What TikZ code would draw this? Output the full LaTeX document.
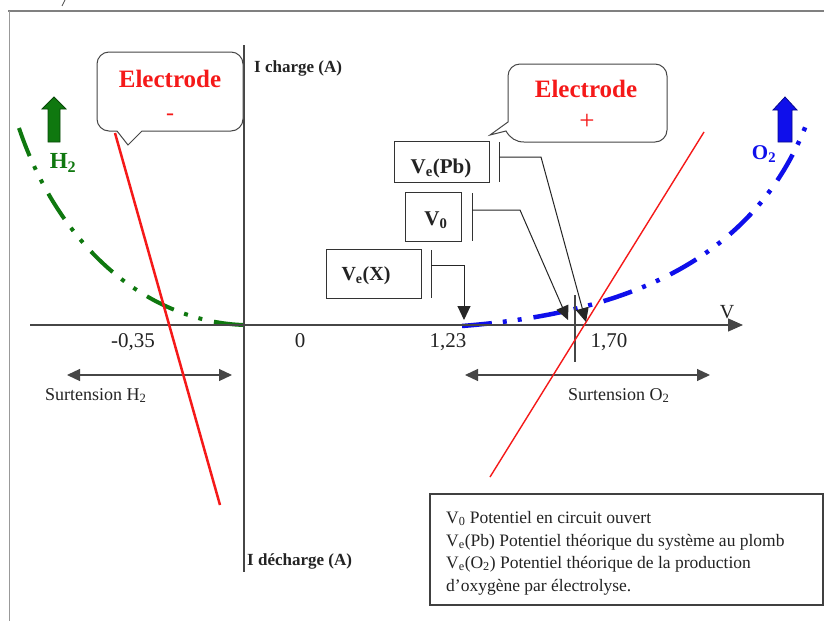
\documentclass[tikz,border=0pt]{standalone}
\usepackage{fontspec}
\setmainfont{Liberation Serif}
\usetikzlibrary{arrows.meta,calc}
\definecolor{myred}{RGB}{245,25,25}
\definecolor{mygreen}{RGB}{15,120,15}
\definecolor{myblue}{RGB}{15,15,235}
\definecolor{axisgray}{RGB}{70,70,70}
\definecolor{txtgray}{RGB}{35,35,35}
\newcommand\myfs[1]{\fontsize{#1}{#1}\selectfont}
\begin{document}
\begin{tikzpicture}[x=1pt,y=-1pt,
  axisline/.style={draw=axisgray, line width=1.3pt},
  conn/.style={draw=black!85, line width=1pt, -{Triangle[length=14pt,width=13pt]}},
  dblarrow/.style={draw=axisgray, line width=1.2pt, {Triangle[length=13pt,width=12pt]}-{Triangle[length=13pt,width=12pt]}},
  lbox/.style={draw=black!80, line width=1pt, inner sep=0pt},
  bracket/.style={draw=black!80, line width=1pt},
  callout/.style={draw=axisgray, line width=1pt, fill=white},
  dashdotdot/.style={line width=4pt, dash pattern=on 30pt off 11pt on 4pt off 11pt on 4pt off 12pt},
  txt/.style={inner sep=0pt, text=txtgray},
]
\useasboundingbox (0,0) rectangle (824,621);
\fill[white] (0,0) rectangle (824,621);

% frame
\draw[gray, line width=2.5pt] (8,11) -- (824,11);
\draw[gray!80, line width=1pt] (9,11) -- (9,621);
\draw[black!70, line width=0.8pt] (65,0) -- (62,6);

% curves
\draw[dashdotdot, mygreen] (19,128) .. controls (60,250) and (150,322) .. (244,325);
\draw[dashdotdot, myblue, line width=4.5pt] (462,326) .. controls (600,315) and (750,275) .. (808,120);

% axes
\coordinate (hstart) at (30,325);
\coordinate (hend) at (743,325);
\coordinate (vtop) at (244,45);
\coordinate (vbot) at (244,572);
\draw[axisline, -{Triangle[length=15pt,width=13pt]}] (hstart) -- (hend);
\draw[axisline] (vtop) -- (vbot);
\coordinate (mtop) at (575,295);
\coordinate (mbot) at (575,362);
\draw[axisline, line width=1.2pt] (mtop) -- (mbot);

% surtension arrows
\coordinate (h2l) at (67,375);
\coordinate (h2r) at (232,375);
\coordinate (o2l) at (465,375);
\coordinate (o2r) at (710,375);
\draw[dblarrow] (h2l) -- (h2r);
\draw[dblarrow] (o2l) -- (o2r);

% callouts
\draw[callout] (142,131) -- (231,131) .. controls (237.6,131) and (243,125.6) .. (243,119)
  -- (243,64) .. controls (243,57.4) and (237.6,52) .. (231,52)
  -- (109,52) .. controls (102.4,52) and (97,57.4) .. (97,64)
  -- (97,119) .. controls (97,125.6) and (102.4,131) .. (109,131)
  -- (117,131) -- (128,145) -- cycle;
\draw[callout] (508,76) -- (508,122) -- (490,135) -- (506,131)
  .. controls (510,138) and (516,142) .. (524,142)
  -- (655,142) .. controls (661.6,142) and (667,136.6) .. (667,130)
  -- (667,76) .. controls (667,69.4) and (661.6,64) .. (655,64)
  -- (520,64) .. controls (513.4,64) and (508,69.4) .. (508,76) -- cycle;

% red lines
\draw[myred, line width=2.5pt] (115,133) -- (220,505);
\draw[myred, line width=1.4pt] (490,477) -- (704,132);

\node[inner sep=0pt, text=myred, font=\bfseries\myfs{25}, anchor=base] (elm) at (170,87) {Electrode};
\node[inner sep=0pt, text=myred, font=\myfs{24}, anchor=base] (elmsign) at (170,120) {-};
\node[inner sep=0pt, text=myred, font=\bfseries\myfs{25}, anchor=base] (elp) at (586,97) {Electrode};
\node[inner sep=0pt, text=myred, font=\myfs{27}, anchor=base] (elpsign) at (587,129) {+};

% gas arrows
\filldraw[fill=mygreen, draw=mygreen!60!black, line width=0.8pt] (48,142) -- (48,109) -- (42,109) -- (54,97) -- (66,109) -- (60,109) -- (60,142) -- cycle;
\filldraw[fill=myblue, draw=myblue!60!black, line width=0.8pt] (778,142) -- (778,110) -- (773,110) -- (785,97) -- (797,110) -- (792,110) -- (792,142) -- cycle;
\node[inner sep=0pt, text=mygreen, font=\bfseries\myfs{23}] (h2) at (63,163) {H\textsubscript{2}};
\node[inner sep=0pt, text=myblue, font=\bfseries\myfs{21}] (o2) at (764,154) {O\textsubscript{2}};

% axis labels
\node[txt, font=\bfseries\myfs{17}, anchor=base west] (icharge) at (254,72) {I charge (A)};
\node[txt, font=\bfseries\myfs{17}, anchor=base west] (idecharge) at (247,565) {I décharge (A)};
\node[txt, font=\myfs{21}, anchor=base] (tm035) at (133,347) {-0,35};
\node[txt, font=\myfs{21}, anchor=base] (t0) at (300,347) {0};
\node[txt, font=\myfs{21}, anchor=base] (t123) at (448,347) {1,23};
\node[txt, font=\myfs{21}, anchor=base] (t170) at (609,347) {1,70};
\node[txt, font=\myfs{20}, anchor=base] (vlab) at (727,318) {V};
\node[txt, font=\myfs{18}, anchor=base west] (surh2) at (45,400) {Surtension H\textsubscript{2}};
\node[txt, font=\myfs{18}, anchor=base west] (suro2) at (568,400) {Surtension O\textsubscript{2}};

% label boxes
\node[lbox, minimum width=95pt, minimum height=41pt] (bpb) at (441.5,161.5) {};
\node[lbox, minimum width=56pt, minimum height=49pt] (bv0) at (433,217) {};
\node[lbox, minimum width=95pt, minimum height=49pt] (bvx) at (373.5,273.5) {};
\node[txt, font=\bfseries\myfs{21}, anchor=base] (lpb) at (441,173) {V\textsubscript{e}(Pb)};
\node[txt, font=\bfseries\myfs{21}, anchor=base] (lv0) at (436,225) {V\textsubscript{0}};
\node[txt, font=\bfseries\myfs{20}, anchor=base] (lvx) at (366,280) {V\textsubscript{e}(X)};

% brackets and connectors
\draw[bracket] (499,142) -- (499,182);
\draw[bracket] (472,193) -- (472,241);
\draw[bracket] (431,250) -- (431,298);
\coordinate (pba) at (499,157);
\coordinate (pbk) at (541,157);
\coordinate (pbt) at (586,322);
\coordinate (v0a) at (472,210);
\coordinate (v0k) at (520,210);
\coordinate (v0t) at (568,320);
\coordinate (vxa) at (431,265);
\coordinate (vxt) at (464,320);
\draw[conn] (pba) -- (pbk) -- (pbt);
\draw[conn] (v0a) -- (v0k) -- (v0t);
\draw[conn] (vxa) -| (vxt);

% legend
\node[draw=black!75, line width=1.5pt, minimum width=393pt, minimum height=111pt, inner sep=0pt] (legend) at (626.5,549.5) {};
\node[txt, font=\myfs{17.5}, anchor=base west] (leg1) at (446,523) {V\textsubscript{0} Potentiel en circuit ouvert};
\node[txt, font=\myfs{17.5}, anchor=base west] (leg2) at (446,546) {V\textsubscript{e}(Pb) Potentiel théorique du système au plomb};
\node[txt, font=\myfs{17.5}, anchor=base west] (leg3) at (446,568) {V\textsubscript{e}(O\textsubscript{2}) Potentiel théorique de la production};
\node[txt, font=\myfs{17.5}, anchor=base west] (leg4) at (446,591) {d’oxygène par électrolyse.};
\end{tikzpicture}
\end{document}
